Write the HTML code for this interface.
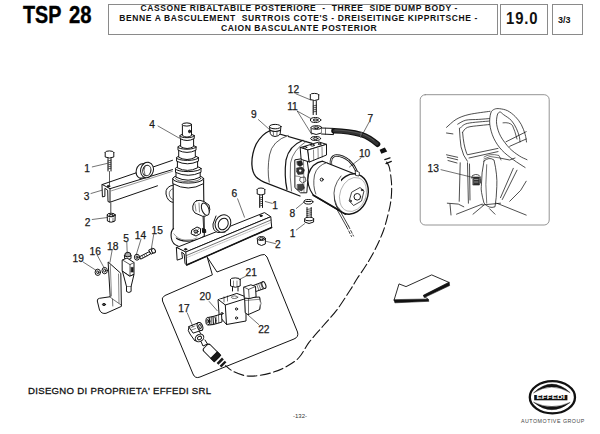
<!DOCTYPE html>
<html><head><meta charset="utf-8">
<style>
html,body{margin:0;padding:0;background:#fff;}
body{width:600px;height:434px;position:relative;overflow:hidden;font-family:"Liberation Sans",sans-serif;color:#111;}
.abs{position:absolute;white-space:nowrap;}
.box{position:absolute;border:1px solid #8a8a8a;box-sizing:border-box;}
.tsp{top:2.4px;font-size:23.5px;font-weight:bold;transform-origin:0 0;-webkit-text-stroke:0.4px #000;color:#000;}
.tl{position:absolute;font-weight:bold;font-size:8.5px;letter-spacing:0.6px;white-space:pre;color:#111;}
svg{position:absolute;left:0;top:0;}
svg text{font-family:"Liberation Sans",sans-serif;font-size:10.2px;fill:#1a1a1a;}
</style></head>
<body>
<div class="abs tsp" style="left:22.6px;transform:scaleX(0.84);">TSP</div>
<div class="abs tsp" style="left:69px;transform:scaleX(0.86);">28</div>
<div class="box" style="left:108px;top:4px;width:390px;height:31px;"></div>
<div class="tl" style="left:140.5px;top:3.2px;">CASSONE RIBALTABILE POSTERIORE  -  THREE  SIDE DUMP BODY -</div>
<div class="tl" style="left:119.3px;top:12.7px;">BENNE A BASCULEMENT  SURTROIS COTE'S - DREISEITINGE KIPPRITSCHE -</div>
<div class="tl" style="left:221px;top:23px;">CAION BASCULANTE POSTERIOR</div>
<div class="box" style="left:500px;top:4px;width:48px;height:31px;"><div class="abs" style="left:5.2px;top:3.8px;font-size:16.5px;font-weight:bold;letter-spacing:1px;transform:scaleX(0.9);transform-origin:0 0;">19.0</div></div>
<div class="box" style="left:552px;top:4px;width:31px;height:31px;"><div class="abs" style="left:5px;top:10px;font-size:9px;font-weight:bold;">3/3</div></div>

<div class="abs" style="left:28px;top:385px;font-size:9.6px;letter-spacing:0.3px;color:#111;-webkit-text-stroke:0.3px #111;">DISEGNO DI PROPRIETA' EFFEDI SRL</div>
<div class="abs" style="left:293px;top:412.6px;font-size:6px;color:#333;">-132-</div>
<div class="abs" style="left:521px;top:418px;font-size:5.3px;letter-spacing:0.5px;color:#444;">AUTOMOTIVE GROUP</div>
<svg width="600" height="434" viewBox="0 0 600 434" fill="none" stroke="#141414" stroke-width="1" stroke-linejoin="round" stroke-linecap="round">
<!-- ===== LOGO ===== -->
<g>
<ellipse cx="552.4" cy="397.2" rx="22.6" ry="16.1" stroke="#111" stroke-width="2.3"/>
<path d="M533.8,392.7 Q551.7,375.5 570.2,392.7 Q551.7,381.5 533.8,392.7 Z" fill="#111" stroke="#111" stroke-width="0.4"/>
<path d="M533.8,402.4 Q551.7,417.2 570.2,402.4 Q551.7,410.8 533.8,402.4 Z" fill="#111" stroke="#111" stroke-width="0.4"/>
<rect x="534.2" y="395" width="33.2" height="5.3" fill="#111" stroke="none"/>
<text x="536.5" y="399.3" textLength="28.5" lengthAdjust="spacingAndGlyphs" stroke="none" style="font-size:4.9px;font-weight:bold;fill:#fff;">EFFEDI</text>
</g>

<!-- ===== CALLOUT BOX (valve) ===== -->
<path d="M212,275 L165,295.5 Q161,297.5 162.5,301 L193,374 Q195,379 200,377 L294,339 Q299,337 297.5,332 L267,257 Q265,253 261,255 L217,272 L207.4,257.4 Z" fill="#fff"/>

<!-- ===== BIG DASHED HOSE ===== -->
<path d="M386.7,162.0 C387.1,162.9 388.6,164.3 389.4,167.6 C390.2,170.8 391.0,177.1 391.4,181.5 C391.8,185.9 391.7,190.1 391.5,194.0 C391.3,197.9 390.8,201.6 390.2,205.0 C389.6,208.4 389.1,210.3 388.0,214.6 C386.9,218.9 385.5,224.9 383.4,230.7 C381.3,236.4 378.2,243.3 375.3,249.1 C372.4,254.9 369.2,260.3 366.1,265.3 C363.0,270.3 359.5,275.0 356.9,279.0 C354.3,283.0 354.0,284.1 350.7,289.2 C347.4,294.3 341.5,303.8 336.9,309.9 C332.3,316.0 327.6,320.6 323.0,326.0 C318.4,331.4 313.2,336.9 309.2,342.2 C305.2,347.4 302.8,353.4 299.0,357.5 C295.2,361.6 290.5,364.2 286.2,366.7 C281.9,369.1 277.9,370.7 273.3,372.2 C268.7,373.7 263.3,374.9 258.7,375.5 C254.1,376.1 250.1,376.5 245.8,375.8 C241.5,375.1 236.3,373.0 233.0,371.3 C229.7,369.6 226.9,366.6 225.7,365.7" stroke-dasharray="10,3.5" stroke-width="1.1"/>
<!-- wire from motor bottom -->

<!-- ===== CHANNEL 3 (left) ===== -->
<g>
<path d="M102.3,184.5 L172.5,160.3 L172.5,169.2 L110,188.7 Z" fill="#fff" stroke="none"/>
<path d="M110,188.7 L172.5,169.2 L172.5,178 L157.5,185.8 L110,202.2 Z" fill="#fff" stroke="none"/>
<path d="M102.3,184.5 L172.5,160.3 M110,188.7 L172.5,169.6 M110,202.2 L157.5,185.8"/>
<path d="M111.5,190.8 L172.5,171.3" stroke="#666" stroke-width="0.7"/>
<path d="M102.3,184.5 L110,188.7 L110,202.2 L108,201.6 L107.7,190.2 L104.9,188.3 L104.9,196.3 L102.8,196.8 Z" fill="#fff"/>
<ellipse cx="108.5" cy="186.2" rx="1.3" ry="0.8" fill="#1a1a1a"/>
<!-- bushing -->
<ellipse cx="141.8" cy="171" rx="5.6" ry="7.4" transform="rotate(15 141.8 171)" fill="#fff"/>
<path d="M143.5,163.5 L148.5,162.3 L148.5,177.8 L141,178.3 Z" fill="#fff" stroke="none"/>
<path d="M143.3,163.6 L148.3,162.4 M140.5,178.2 L146,177.6"/>
<ellipse cx="147" cy="170" rx="6.4" ry="7.8" transform="rotate(15 147 170)" fill="#fff"/>
<ellipse cx="146.8" cy="170.5" rx="4" ry="5.3" transform="rotate(15 146.8 170.5)"/>
<path d="M145,166 Q143,170 145,175" stroke-width="0.6"/>
</g>
<!-- bolt 1 (left) -->
<g>
<path d="M109.5,171.5 L109.5,185" stroke-width="0.7"/>
<ellipse cx="109.5" cy="152.5" rx="4.3" ry="1.6" fill="#fff"/>
<path d="M105.2,152.5 L105.2,157 Q109.5,159 113.8,157 L113.8,152.5" fill="#fff"/>
<path d="M108,158.5 L108,171 M111,158.5 L111,171" />
<path d="M108,161 L111,160.2 M108,163 L111,162.2 M108,165 L111,164.2 M108,167 L111,166.2 M108,169 L111,168.2" stroke-width="0.7"/>
</g>
<!-- nut 2 (left) -->
<g>
<path d="M110.8,203 L110.8,212.5" stroke-width="0.8"/>
<path d="M107.2,215 L107.4,221 Q111,223.5 115,221 L115.2,215" fill="#fff"/>
<ellipse cx="111.2" cy="215" rx="4" ry="1.8" fill="#fff"/>
<ellipse cx="111.2" cy="215.3" rx="2" ry="1"/>
<path d="M109.5,218 L109.5,222 M113,218 L113,222" stroke-width="0.6"/>
</g>

<!-- ===== CYLINDER 4 ===== -->
<g fill="#fff">
<!-- side lug -->
<path d="M173.5,185 Q165,186.5 166,194 Q167.5,202 173.5,202.5"/>
<path d="M173.5,188.5 Q168.5,190 169.3,195 Q170.5,199.5 173.5,199.5" stroke-width="0.6"/>
<!-- main body -->
<path d="M173.2,178.7 L173.2,236 Q180,242 190,241 Q200,240 204.3,236 L203.5,178.7 Z" stroke-width="1.1"/>
<path d="M173.6,228.5 Q170.3,231 171.3,238 Q172.5,244.5 178,246" stroke-width="1.1"/>
<path d="M173.8,233.8 Q178,239.5 185,240 Q193,240.5 197,238" stroke-width="0.6" stroke="#555"/>
<path d="M172.8,178.7 L172.8,183.6 Q188.2,192.4 203.6,183.6 L203.6,178.7 Z"/>
<ellipse cx="188.2" cy="178.7" rx="15.4" ry="4.4"/>
<ellipse cx="188.2" cy="178.5" rx="12.6" ry="3.2" stroke-width="0.6"/>
<path d="M176.0,168.6 L176.0,177.2 Q188.1,183.2 200.2,177.2 L200.2,168.6 Z"/>
<path d="M175.5,168.6 L175.5,172.3 Q188.2,178.3 201.0,172.3 L201.0,168.6 Z"/>
<ellipse cx="188.2" cy="168.6" rx="12.8" ry="3.0"/>
<path d="M177.4,157.8 L177.4,167.8 Q187.5,173.0 197.6,167.8 L197.6,157.8 Z"/>
<path d="M176.6,157.8 L176.6,161.2 Q187.5,166.4 198.4,161.2 L198.4,157.8 Z"/>
<ellipse cx="187.5" cy="157.8" rx="10.9" ry="2.6"/>
<path d="M178.7,147.0 L178.7,157.3 Q187.0,161.7 195.3,157.3 L195.3,147.0 Z"/>
<path d="M178.0,147.0 L178.0,150.2 Q187.0,154.6 196.0,150.2 L196.0,147.0 Z"/>
<ellipse cx="187.0" cy="147.0" rx="9.0" ry="2.2"/>
<path d="M180.6,135.8 L180.6,146.6 Q187.1,150.4 193.6,146.6 L193.6,135.8 Z"/>
<path d="M180.0,135.8 L180.0,138.6 Q187.1,142.4 194.2,138.6 L194.2,135.8 Z"/>
<ellipse cx="187.1" cy="135.8" rx="7.1" ry="1.9"/>
<path d="M182.4,124.5 L182.4,135.5 Q187,138.7 191.5,135.5 L191.5,124.5 Z"/>
<ellipse cx="186.9" cy="124.5" rx="4.6" ry="1.6"/>
<ellipse cx="189.6" cy="131.4" rx="1.1" ry="1.3" fill="#333"/>
<!-- trunnion pin -->
<path d="M196.5,200.7 Q200,199.5 204,201.5 L209,205 Q211,210 208.4,213.7 Q205.5,217.2 202.7,216.3 L195,213 Q192,210.5 192.8,206 Q193.5,202 196.5,200.7 Z"/>
<ellipse cx="205.3" cy="209.2" rx="3.4" ry="6.4" transform="rotate(-22 205.3 209.2)"/>
<path d="M199,203 L199.5,212 M195,204 L196,211" stroke-width="0.5"/>
<!-- small bracket/nut near base -->
<path d="M203,216.5 L203.7,229" stroke-width="0.8"/>
<path d="M192,230 L197,227 L200.5,228.5 L200.5,233.5 L196,236 L191.5,234 Z"/>
<ellipse cx="196" cy="231.5" rx="2" ry="1.5"/>
<path d="M193,229.5 L198,234 M199,228.5 L194,235" stroke-width="0.5"/>
<path d="M202.7,228.5 L205.5,229.5 L205.8,232.4 L203,232.5 Z" fill="#1a1a1a"/>
</g>

<!-- ===== CHANNEL 6 ===== -->
<g fill="#fff">
<path d="M176.7,247.5 L264.5,212.6 L270.8,216.7 L185.8,252 Z"/>
<path d="M185.8,252 L270.8,216.7 L271.7,227.5 L186.7,265 Z"/>
<path d="M186.7,265 L271.7,227.5" stroke-width="1.5"/>
<path d="M186.5,255.5 L271,220" stroke-width="0.6"/>
<path d="M187,257.5 L271,222.5" stroke="#888" stroke-width="0.5" stroke-dasharray="1.5,1"/>
<path d="M176.7,247.5 L185.8,252 L186.7,265 L185,263.3 L184.2,254 L181.7,252.2 L182.5,258.3 L177.5,260 Z"/>
<ellipse cx="185.6" cy="249.3" rx="1.2" ry="0.7" fill="#1a1a1a"/>
<ellipse cx="261" cy="215.8" rx="1.2" ry="0.7" fill="#1a1a1a"/>
<!-- bushing on channel 6 -->
<path d="M216,216 L213,224 Q212.5,231 218,232.5 L225,232" />
<ellipse cx="223" cy="223.5" rx="7.6" ry="9" transform="rotate(25 223 223.5)"/>
<ellipse cx="223.2" cy="224" rx="4.8" ry="6" transform="rotate(25 223.2 224)"/>
</g>
<!-- callout pointer lines under channel 6 -->

<!-- bolt 1 (right, above channel 6) -->
<g fill="#fff">
<ellipse cx="261" cy="189.5" rx="3.8" ry="1.5"/>
<path d="M257.2,189.5 L257.2,194 Q261,196 264.8,194 L264.8,189.5"/>
<path d="M259.7,195.5 L259.7,207.5 M262.5,195.5 L262.5,207.5"/>
<path d="M259.7,198 L262.5,197.2 M259.7,200 L262.5,199.2 M259.7,202 L262.5,201.2 M259.7,204 L262.5,203.2 M259.7,206 L262.5,205.2" stroke-width="0.7"/>
</g>
<!-- nut 2 (right) -->
<g fill="#fff">
<path d="M257.3,238.5 L257.8,244 Q261.5,247 265.3,244 L265.5,238.5"/>
<ellipse cx="261.4" cy="238.5" rx="4" ry="2"/>
<ellipse cx="261.4" cy="238.7" rx="2.1" ry="1"/>
</g>

<!-- ===== PUMP (tank 9) ===== -->
<g fill="#fff">
<path d="M269.2,131 L312,143.5 L302,150 L298,160 L298,196 L264,182.1 Q261,181 258,178.6 Q252.5,175 251.9,164.8 Q251.5,154 256.2,144 Q262,134 269.2,131 Z" stroke="none"/>
<path d="M312,143.4 L269.2,131 Q262,134 256.2,144 Q251.5,154 251.9,164.8 Q252.5,175 258,178.6 Q261,181 264,182.1 L300,196" stroke-width="1.3"/>
<path d="M288.3,135.4 Q272,141 269.5,155 Q267,170 269.2,182.1" stroke-width="0.7"/>
<path d="M303,140.3 Q289,146 286,160 Q284,176 287,189.5" stroke-width="1.2"/>
<path d="M306,141.6 Q293,150 290.5,163 Q289.5,177 291.5,191" stroke-width="0.6"/>
<!-- filler cap -->
<path d="M269.5,126.8 L270.3,133.5 Q271,136.3 275,136.5 Q279.5,136.3 280.2,133.5 L280.9,126.8"/>
<ellipse cx="275.2" cy="126.6" rx="5.8" ry="2.2"/>
<path d="M269.9,130.3 Q275,132.6 280.6,130.3" stroke-width="1.1"/>
<path d="M273.3,131.8 L273.5,135 M277,131.8 L276.9,135" stroke-width="0.6"/>
</g>
<!-- valve block on pump -->
<g fill="#fff">
<path d="M295.2,159.8 L306.8,157.9 L308.5,170 L306.8,192.8 L300.5,192.8 L295.2,187.9 Z"/>
<path d="M297,161.5 L301.5,160.5 L303,164.5 L300,166.5 L297.5,165 Z" fill="#222" stroke-width="0.5"/>
<path d="M296.8,168 L302,167 L304.5,170 L303,174 L298,174.5 L296.5,171.5 Z" fill="#333" stroke-width="0.5"/>
<circle cx="300.2" cy="170.6" r="1.2" fill="#fff" stroke="none"/>
<path d="M300.5,177.5 L305,177 L306,181 L302.5,183 L300,181 Z" stroke-width="0.7"/>
<path d="M297.5,184.5 L303,184 L304.5,188 L301.5,191 L297.5,189.5 Z" fill="#444" stroke-width="0.5"/>
<path d="M295.5,176 L300,176.5 M303.5,158.5 L304,192" stroke-width="0.5"/>
<path d="M300.5,147.5 L319,142 L326.5,144.3 L308,150 Z"/>
<path d="M300.5,147.5 L308,150 L309.5,162 L301.5,159.5 Z"/>
<path d="M308,150 L326.5,144.3 L326.5,155 L309.5,162 Z"/>
<path d="M313.5,150 L313.7,160 M318,148.5 L318.2,158.5 M322,147 L322.2,157" stroke-width="0.5"/>
<ellipse cx="305" cy="147.3" rx="1.8" ry="0.9"/>
<ellipse cx="312.5" cy="145.2" rx="1.8" ry="0.9"/>
<ellipse cx="319.5" cy="144" rx="1.5" ry="0.7"/>
</g>
<!-- motor 10 -->
<g fill="#fff">
<path d="M331,165 Q330,157 335,155.6 Q342,155 349,160.5 Q354,165 356.5,171" fill="none" stroke-width="2.4"/>
<path d="M331,165 Q330,157 335,155.6 Q342,155 349,160.5 Q354,165 356.5,171" fill="none" stroke="#fff" stroke-width="0.8"/>
<path d="M322.6,161.2 L358.5,175.5 L344.5,213.8 L313.4,195.3 Q306,185 308.5,174 Q312,163 322.6,161.2 Z" stroke-width="1.2"/>
<path d="M313.4,195.3 L345.5,214" stroke-width="1.8"/>
<path d="M327,162.5 Q317,165.5 314.5,175 Q312.5,186 315.8,194" stroke-width="0.7"/>
<ellipse cx="351.5" cy="194" rx="16.2" ry="20.6" transform="rotate(20 351.5 194)" stroke-width="1.4"/>
<path d="M341,176 Q332,187 334.5,199 Q336,207 341,211" stroke-width="0.7"/>
<ellipse cx="353" cy="194.5" rx="13" ry="17.5" transform="rotate(20 353 194.5)" stroke-width="0.5" stroke="#777"/>
<path d="M352,192 L360,187.5 L364,191 L361.5,201 L353.5,205.5 L349.5,201 Z" stroke-width="0.8"/>
<circle cx="357.3" cy="196.8" r="3.3"/>
<circle cx="350.5" cy="201" r="0.8"/>
<circle cx="362" cy="190" r="0.8"/>
<circle cx="321.7" cy="179.6" r="1.5"/>
<path d="M355.5,170.5 L359.5,172.5 L359,176 L356,175.5 Z" stroke-width="0.8"/>
<path d="M337,209.5 L346.5,226.5 M339,209 L348.5,226" fill="none" stroke-width="0.8"/>
<path d="M346.5,226.5 L351.5,236.5 M348.5,226 L353.5,236" fill="none" stroke-width="0.8" stroke-dasharray="3,2"/>
</g>
<!-- banjo + bolt 12 + washers 11 -->
<g fill="#fff">
<ellipse cx="314.5" cy="94.8" rx="4.2" ry="1.4"/>
<path d="M310.3,94.8 L310.3,99.5 Q314.5,101.5 318.7,99.5 L318.7,94.8"/>
<path d="M313.2,101 L313.2,114.6 M316.3,101 L316.3,114.6"/>
<path d="M313.2,106 L316.3,105.2 M313.2,108 L316.3,107.2 M313.2,110 L316.3,109.2 M313.2,112 L316.3,111.2" stroke-width="0.7"/>
<ellipse cx="315.6" cy="120" rx="5.2" ry="2.5"/>
<ellipse cx="315.6" cy="120" rx="2.5" ry="1"/>
<path d="M311.1,127.5 L311.1,133 Q316,136 321.5,133 L321.5,127.5 Z"/>
<ellipse cx="316.3" cy="127.5" rx="5.2" ry="1.8"/>
<ellipse cx="316.3" cy="127.7" rx="2.3" ry="0.9"/>
<path d="M321.5,128 L333.5,128.4 L333.5,134.6 L321.5,134"/>
<path d="M325.5,128.2 L325.5,134.3" stroke-width="0.6"/>
<ellipse cx="315.6" cy="138.5" rx="5" ry="2"/>
<ellipse cx="315.6" cy="138.5" rx="2.3" ry="0.9"/>
</g>
<!-- hose 7 -->
<path d="M334,130.8 C342,131 352,132 361.5,134.6 C367,136.2 372,139.5 377.5,144.2" stroke="#111" stroke-width="5.6"/>
<path d="M334.5,130.8 C342,131 352,132 361.5,134.6 C367,136.2 372,139.5 377,143.8" stroke="#333" stroke-width="3.2"/>
<path d="M335,130 C343,130.2 352,131.2 361,133.7 C366,135.2 370,137.5 374,140.5" stroke="#666" stroke-width="0.7"/>
<path d="M361.3,132 L360.6,137.5" stroke="#999" stroke-width="0.6"/>
<path d="M379.6,149.8 L384.8,147.4 L387.2,151.5 L381.3,153.8 Z" fill="#111" stroke="none"/>
<path d="M384.8,159.6 L390,157.8 M386,163.6 L391.3,161.3" stroke-width="1.3"/>

<!-- washer 8 + bolt 1 under pump -->
<g fill="#fff">
<ellipse cx="308.4" cy="201.8" rx="4.5" ry="2.3"/>
<path d="M306,201.5 L311,201.5" stroke-width="1.2"/>
<path d="M307,207.5 L307,217.5 M311.2,207.5 L311.2,217.5"/>
<path d="M307,209.5 L311.2,208.7 M307,211.5 L311.2,210.7 M307,213.5 L311.2,212.7 M307,215.5 L311.2,214.7" stroke-width="0.7"/>
<path d="M304.6,219 L304.6,222 Q309,225 313.6,222 L313.6,219"/>
<ellipse cx="309.1" cy="219" rx="4.5" ry="1.8"/>
</g>

<!-- ===== CALLOUT interior: valve parts ===== -->
<!-- bolt 21 -->
<g fill="#fff">
<ellipse cx="235.3" cy="279.5" rx="4.8" ry="1.6"/>
<path d="M230.5,279.5 L230.5,286 Q235.3,288.5 240.2,286 L240.2,279.5"/>
<path d="M232.5,287.5 L232.5,291 M238,287.5 L238,291"/>
<path d="M233.5,281 L233.5,286 M237,281 L237,286" stroke-width="0.5"/>
</g>
<!-- valve block 20 -->
<g fill="#fff">
<path d="M218.4,299.6 L236.8,293.4 L246,296.9 L246,321 L226.5,324.5 L219.5,316.5 Z"/>
<path d="M218.4,299.6 L225.3,305 L246,298.5 M225.3,305 L226.5,324.5" />
<path d="M224,296.8 L224,302 M227.5,296 L227.5,301" stroke-width="0.6"/>
<ellipse cx="234.5" cy="297.2" rx="3.2" ry="1.3" stroke-width="0.6"/>
<circle cx="236.5" cy="309" r="1.1"/>
<circle cx="236.5" cy="318" r="1.1"/>
<circle cx="222" cy="313.5" r="1" />
</g>
<!-- solenoid 22 -->
<g fill="#fff">
<path d="M245,298 L259.6,297 Q261.5,303 259.6,309.6 L248,314.7 L245.5,313 Z"/>
<path d="M248.5,299.5 L248.5,314 M259.6,297.5 Q262.5,303 259.8,309.3" stroke-width="0.6"/>
<path d="M245.4,300.5 L259.4,299.3" stroke-width="0.5"/>
<g transform="translate(254.5,288.5) rotate(-20)">
<rect x="0" y="-3.3" width="10" height="6.6"/>
<ellipse cx="10" cy="0" rx="1.8" ry="3.6"/>
<path d="M3.5,-3.3 L3.5,3.3 M5.5,-3.3 L5.5,3.3 M7.5,-3.3 L7.5,3.3" stroke-width="0.5"/>
</g>
<path d="M244,287.1 L250.9,284.8 L255.5,286.5 L256.1,296.9 L249.2,298.6 L244.6,298 Z"/>
<path d="M244,287.1 L248.6,289.4 L255.5,286.5 M248.6,289.4 L249.2,298.6" stroke-width="0.7"/>
</g>
<!-- fitting 20 -->
<g fill="#fff">
<path d="M213,316.5 L221.5,314 L222,322 L213.5,324.5 Z"/>
<ellipse cx="213.3" cy="320.5" rx="2.4" ry="4" />
<path d="M208,317.5 L213,316.5 L213.5,324.5 L208.5,325 Z"/>
<ellipse cx="207.8" cy="321.2" rx="2" ry="3.8"/>
<ellipse cx="207.8" cy="321.2" rx="0.9" ry="1.8"/>
<path d="M216,315.7 L216.3,323.7 M218.5,315 L218.8,323 M209.8,317.3 L210.2,324.8 M211.5,317 L211.8,324.7" stroke-width="0.6"/>
</g>
<!-- elbow 17 -->
<g fill="#fff">
<path d="M189,326.5 Q187,331 190,334 L195,341 L203,337 L199,331"/>
<path d="M189,326.5 L199,322.5 L202.5,330 L193.5,333 Z"/>
<ellipse cx="200" cy="326.5" rx="2.6" ry="4.2" transform="rotate(-20 200 326.5)"/>
<ellipse cx="200" cy="326.5" rx="1.2" ry="2" transform="rotate(-20 200 326.5)"/>
<path d="M191,327.5 L195,326 M191.5,330 L195.5,328.5" stroke-width="0.5"/>
<ellipse cx="199.5" cy="338" rx="4.5" ry="3.5" transform="rotate(-30 199.5 338)"/>
<ellipse cx="199.5" cy="338" rx="2.2" ry="1.6" transform="rotate(-30 199.5 338)"/>
<path d="M201,341.5 L203,346 L207.5,344 L205,340"/>
<g transform="translate(205.5,346.5) rotate(45)">
<rect x="0" y="-4.6" width="17" height="9.2" rx="2.5"/>
<rect x="12" y="-4.6" width="5" height="9.2" fill="#1a1a1a"/>
<rect x="19.5" y="-3.8" width="2.6" height="7.6" fill="#1a1a1a" stroke="none"/>
<rect x="23.6" y="-3.6" width="2.4" height="7.2" fill="#1a1a1a" stroke="none"/>
</g>
</g>

<!-- ===== LEFT SMALL PARTS (5,14,15,16,18,19) ===== -->
<g fill="#fff">
<!-- bracket 18 -->
<path d="M108.4,262.2 L120.8,273.3 L121.4,306.4 L106,313.3 Q101.5,314.2 99.5,310 L97.3,301 Q97,298.7 99.5,298.3 L109.8,296.8 Z" stroke-width="1"/>
<path d="M109.8,296.8 L112.5,299 L121.2,305 M112.5,299 L112.8,306" stroke-width="0.6"/>
<path d="M110.3,265 L111.5,296" stroke-width="0.5"/>
<path d="M118.5,274 L119,303" stroke-width="0.5"/>
<ellipse cx="104" cy="304.5" rx="1.6" ry="1" fill="#555"/>
<!-- washer 19 -->
<ellipse cx="97.8" cy="272.3" rx="2.7" ry="3.2"/>
<ellipse cx="97.8" cy="272.3" rx="1.1" ry="1.4"/>
<!-- washer 16 -->
<ellipse cx="104.7" cy="270.6" rx="2.7" ry="3.2"/>
<ellipse cx="104.7" cy="270.6" rx="1.1" ry="1.4"/>
<!-- part 5 -->
<path d="M124.6,255.5 L124.6,258.6 Q127.8,260.4 131,258.6 L131,255.5"/>
<path d="M124.6,256 Q124.3,252.3 127.8,252.2 Q131.3,252.3 131,256 Q127.8,257.8 124.6,256 Z" fill="#aaa"/>
<path d="M122.5,260 L127,258 L134,262.5 L134,274.4 L130,276.1 L122.5,271.5 Z"/>
<path d="M122.5,260 L130,264.6 L134,262.5 M130,264.6 L130,276.1" stroke-width="0.7"/>
<rect x="131.1" y="267.3" width="2.2" height="4.8" fill="#1a1a1a" stroke-width="0.4"/>
<path d="M122.5,271.5 L126.5,286.5 L131.1,286.5 L134,274.4 L130,276.1 Z"/>
<path d="M126.5,286.5 L126.5,291.5 Q128.8,293.5 131.1,291.5 L131.1,286.5"/>
<!-- washer 14 -->
<ellipse cx="137" cy="257.2" rx="2.6" ry="3"/>
<ellipse cx="137" cy="257.2" rx="1" ry="1.3"/>
<!-- bolt 15 -->
<path d="M140,256.5 L149.5,251.5 L150.5,254 L141,259 Z"/>
<path d="M142,255.5 L143,258 M144,254.5 L145,257 M146,253.5 L147,256" stroke-width="0.5"/>
<path d="M149,250 L152.5,248.3 Q155.5,249 155,252 L151.5,254 Z"/>
<ellipse cx="153.5" cy="250.8" rx="1.8" ry="2.3" transform="rotate(-30 153.5 250.8)"/>
</g>

<!-- ===== ARROW ===== -->
<g>
<path d="M394.1,300 L399,283.9 L406,286.6 L431.7,274.9 L449.2,282.5 L423.5,295.6 L428.2,299.4 Z" fill="#fff" stroke-width="0.9"/>
<path d="M449.2,282.5 L449.6,285.6 L424.2,297.6 L423.5,295.6 Z M394.1,300 L394.9,302.8 L428.9,301.3 L428.2,299.4 Z" fill="#111" stroke="#111" stroke-width="0.6"/>
</g>

<!-- ===== INSET ===== -->
<g>
<rect x="420.2" y="94.7" width="129" height="130.3" rx="5" stroke="#888" stroke-width="0.9"/>
<g stroke-width="0.75">
<path d="M446.5,127.4 C448.1,126.1 452.4,121.6 456.1,119.4 C459.9,117.2 463.4,115.8 469.0,114.5 C474.6,113.2 486.5,111.8 490.0,111.3"/>
<path d="M457.7,124.2 C459.1,123.5 462.3,121.0 465.8,120.2 C469.3,119.4 474.7,119.7 478.7,119.4 C482.7,119.1 488.1,118.7 490.0,118.5"/>
<path d="M460.2,128.2 C461.4,127.4 462.4,124.6 467.4,123.4 C472.4,122.2 486.2,121.4 490.0,121.0"/>
<path d="M446.5,133 L452.9,133.9"/>
<path d="M462.6,132.3 C463.4,131.5 464.5,128.5 467.4,127.4 C470.3,126.3 475.7,126.0 480.0,125.5 C484.3,125.0 491.0,124.4 493.2,124.2"/>
<path d="M459.4,128.2 Q460,140 461,146.8 Q463,156 467.4,161.3"/>
<path d="M462.6,132.3 Q463.5,145 466.6,153.2 L467.4,154.8 L498,148.4"/>
<path d="M469,158 L498,151.6"/>
<path d="M446.5,154.8 L457.7,157.3 M447.3,157.3 L457.7,159.8 M448,160.5 L457,163"/>
<!-- wheel -->
<path d="M525.1,167.5 C523.1,166.2 517.2,162.6 513.3,159.7 C509.4,156.8 504.9,153.5 501.6,149.9 C498.3,146.3 495.7,142.3 493.7,138.1 C491.7,133.8 490.3,128.6 489.8,124.4 C489.3,120.2 490.0,115.5 490.8,113.0 C491.6,110.5 493.0,109.9 494.5,109.2 C496.0,108.5 497.4,108.5 499.6,108.7 C501.8,109.0 504.9,109.4 507.5,110.7 C510.1,112.0 513.0,114.3 515.3,116.6 C517.6,118.9 519.6,121.5 521.2,124.4 C522.8,127.3 524.2,131.3 525.1,134.2 C526.0,137.1 526.3,140.7 526.5,142.0" fill="#fff"/>
<path d="M527.0,159.7 C525.7,159.0 522.1,157.8 519.2,155.8 C516.3,153.9 512.5,151.3 509.4,148.0 C506.3,144.7 502.7,140.1 500.6,136.2 C498.5,132.3 497.2,127.9 496.7,124.4 C496.1,120.9 496.8,117.1 497.3,115.0 C497.9,112.9 499.0,112.1 500.0,112.0 C501.0,111.9 501.6,113.2 503.5,114.6 C505.4,116.0 509.3,118.2 511.4,120.5 C513.5,122.8 515.0,125.7 516.3,128.3 C517.6,130.9 518.6,133.9 519.2,136.2 C519.8,138.5 519.9,141.0 520.0,142.0"/>
<path d="M506,141.8 L526.2,131.7 M509.7,146.3 L526.2,139"/>
<path d="M503,122.8 Q509.7,122 512.5,125.5 Q515,131 517,139" stroke-width="0.7"/>
<path d="M484,157 Q490,153 499,155.5 L501,160" stroke-width="0.6"/>
<!-- right panel/lever -->
<path d="M526.2,181.2 L520.7,190.3 L509.7,201.3"/>
<path d="M513.3,168.3 L500.5,197.7 M517,170.2 L502.3,199.5"/>
<path d="M500.5,158.2 L509.7,160 L515,158"/>
<!-- column -->
<path d="M484,161 Q489,156.5 494,160 Q497.5,175 496.8,186.7 Q496.5,198 495,206.8 Q489,209 484,203.2 Q480.5,190 481.3,186.7 Q481.5,172 484,161 Z" fill="#fff"/>
<path d="M486.7,164.7 Q485,185 486.7,203.2" stroke-width="0.6"/>
<path d="M484,159 L490,156.5 L500,158" stroke-width="0.6"/>
<!-- left pillar -->
<path d="M460.2,162.8 L459.2,201.3 M467.5,162.8 L468.4,203.2 M469.5,164 L470,200" />
<!-- floor -->
<path d="M447.3,203.2 L458.3,204.1 L463.8,206.8 M450,204.1 L451,215"/>
<path d="M456.5,214.2 L482.2,204.1 M473,214.2 L484,205 M482.2,205 L500.5,203.2"/>
<path d="M489.5,208.7 L495,214.2 M496.8,203.2 L526.2,215.1"/>
<!-- part 13 -->
<path d="M471.5,178 Q471.5,174.5 475.5,174.5 Q480.5,174.5 480.5,178.5 L480.5,183" fill="#fff"/>
<rect x="473.2" y="177" width="6.2" height="8" fill="#333" stroke-width="0.6"/>
<path d="M474.5,179.5 L478,179.5 M474.5,182 L478,182" stroke="#ccc" stroke-width="0.6"/>
<path d="M441,169.7 L473,177.5" stroke-width="0.6"/>
</g>
</g>

<!-- ===== LEADERS ===== -->
<g stroke-width="0.6">
<path d="M158,126 L179,138"/>
<path d="M92.3,166.9 L107.2,163.4"/>
<path d="M91,193.5 L102,190.2"/>
<path d="M92.2,219.5 L107.4,217.5"/>
<path d="M258.4,119.6 L270,130"/>
<path d="M297.3,111.1 L311.1,118.7 M297.3,111.1 L311.8,134.5"/>
<path d="M295.9,93.8 L310.8,100"/>
<path d="M369,122.3 L361,137.2"/>
<path d="M361,158 L349.5,167"/>
<path d="M237.6,198.8 L244.5,217.2"/>
<path d="M265.3,201.5 L272.2,203.4"/>
<path d="M266.4,241.4 L275.6,243.7"/>
<path d="M296.3,208.5 L304.6,201.6"/>
<path d="M296.3,230 L304.6,223.7"/>
<path d="M83.4,262.2 L96,270.3"/>
<path d="M97.3,255.3 L104.2,268"/>
<path d="M112.2,249.6 L110,262.2"/>
<path d="M126.8,242.2 L127.2,253"/>
<path d="M141,239.2 L136.4,254.2"/>
<path d="M153.7,234.6 L151.4,248.4"/>
<path d="M187.3,313 L193,326.8"/>
<path d="M209.2,301.5 L217.2,310.7"/>
<path d="M246,276.1 L239.1,279.6"/>
<path d="M258.7,324.5 L248.3,315.3"/>
</g>

<!-- ===== LABELS ===== -->
<g stroke="#1a1a1a" stroke-width="0.25" transform="translate(0,0.6)">
<text x="149.3" y="127.6">4</text>
<text x="84.3" y="171">1</text>
<text x="83.8" y="199.1">3</text>
<text x="84.8" y="225">2</text>
<text x="251" y="117.3">9</text>
<text x="287.2" y="109.2">11</text>
<text x="287.8" y="92.7">12</text>
<text x="367.5" y="121">7</text>
<text x="358.9" y="156.8">10</text>
<text x="231.4" y="196.5">6</text>
<text x="272.3" y="208">1</text>
<text x="275.1" y="247.2">2</text>
<text x="289.5" y="216.1">8</text>
<text x="289.7" y="236.9">1</text>
<text x="72.5" y="261">19</text>
<text x="89.5" y="254.6">16</text>
<text x="107.1" y="249.1">18</text>
<text x="123.3" y="241.5">5</text>
<text x="134.8" y="238">14</text>
<text x="151.6" y="233">15</text>
<text x="178.3" y="311.8">17</text>
<text x="199.5" y="299.2">20</text>
<text x="245.5" y="275">21</text>
<text x="258.2" y="332.6">22</text>
<text x="427.5" y="171.4">13</text>
</g>
</svg>

</body></html>
